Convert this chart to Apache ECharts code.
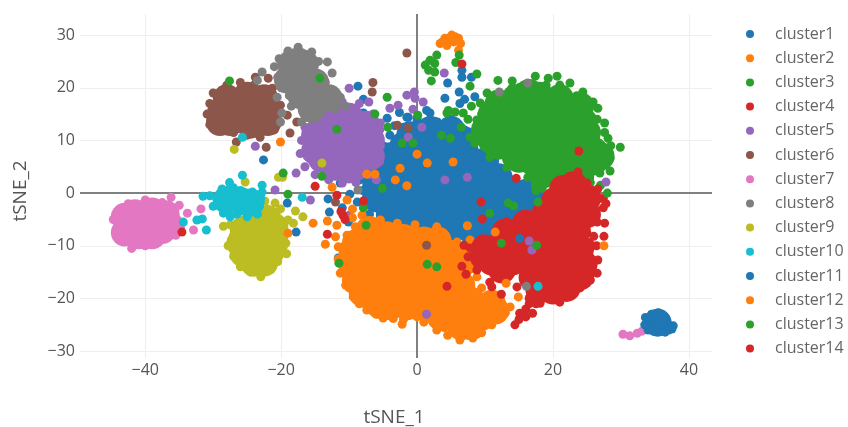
<!DOCTYPE html>
<html><head><meta charset="utf-8">
<style>html,body{margin:0;background:#fff}#c{width:848px;height:427px}</style>
<script src="https://cdn.jsdelivr.net/npm/echarts@6/dist/echarts.min.js"></script></head>
<body><div id="c"></div><script>
const names=['cluster1','cluster2','cluster3','cluster4','cluster5','cluster6','cluster7','cluster8','cluster9','cluster10','cluster11','cluster12','cluster13','cluster14'];
const palette=['#1f77b4','#ff7f0e','#2ca02c','#d62728','#9467bd','#8c564b','#e377c2','#7f7f7f','#bcbd22','#17becf','#1f77b4','#ff7f0e','#2ca02c','#d62728'];
const xTicks=[-40,-20,0,20,40];
const yTicks=[-30,-20,-10,0,10,20,30];

// dense interior of each blob
const core1=[[1,11],[4,11],[7,10],[-2,9],[-1,11],[2,12],[5,12],[-4,7],[1,8],[4,8],[7,8],[10,6],[-3,6],[0,5],[3,5],[6,5],[9,5],[12,3],[-5,3],[-6,1.5],[-2,2],[1,2],[4,2],[7,2],[10,2],[13,1],[16,0],[-6,-1],[-3,-1],[0,-1],[3,-1],[6,-1],[9,-1],[12,-2],[15,-2],[18,-2],[-4,-4],[-1,-4],[2,-4],[5,-4],[8,-4],[11,-4],[14,-4],[2,-6],[5,-7],[8,-7],[11,-7],[15,-5]];
const core2=[[-7,-7],[-4.5,-8],[-2,-8.5],[1,-9],[3,-9],[-9,-9.5],[-9.5,-11],[-6.5,-11],[-3.5,-11],[-0.5,-11],[2.5,-10.5],[5,-11.5],[-9.5,-14],[-6.5,-14],[-3.5,-14],[-0.5,-14],[2.5,-14],[5.5,-14],[7,-13],[-9,-16.5],[-8,-17],[-5.5,-17],[-2.5,-17],[0.5,-17],[3.5,-17],[6.5,-17.5],[-8,-19],[-6.5,-20],[-4,-20],[-1,-20],[2,-20],[5,-20.5],[8,-20.5],[11,-21],[-5.5,-21.2],[-4,-21.5],[-1.5,-21.5],[1,-21.5],[3.5,-23.5],[6.5,-24],[9.5,-23.5],[11.5,-22.3],[6.5,-25.3],[8,-25.3]];
const core3=[[12,17],[14.5,18],[16.5,19],[18,18.5],[21,18],[24,16.5],[11,15],[14,15],[17,15],[20,15],[23,15],[24.5,13.5],[10,12],[13,12],[16,12],[19,12],[22,12],[25,11.5],[11,10],[12,9],[14,9],[17,9],[20,9],[23,9],[26,8],[27,7],[14.5,7],[15,6.5],[17,6],[20,6],[23,6],[26,6],[18.5,3.5],[21,4],[24,3]];
const core4=[[23,1.5],[21.5,0.8],[20.3,-1.5],[22,-1],[25,-1],[19.5,-3.5],[22,-4],[25,-4],[13,-7.5],[16,-5.8],[15.5,-7],[18,-7],[21,-7],[23.5,-7],[10,-10.5],[13,-10],[16,-10],[19,-10],[22,-10],[24,-10.5],[9.8,-12],[11,-13],[14,-13],[17,-13],[20,-13],[23,-13],[24.5,-13.5],[12.5,-14.5],[17,-16],[20,-16],[23,-15.5],[24,-15.8],[20,-18.5],[18,-18.3],[22,-18]];
const core5=[[-13,14],[-10,14.5],[-7.5,13],[-15,11],[-12,11],[-9,11],[-6.8,10],[-15,8],[-12,8],[-9,8],[-6.8,7],[-14,6.5],[-12,5],[-9,5],[-10,4.5]];
const core6=[[-28,18],[-25,18.5],[-22.5,18],[-28.8,15.5],[-26,15.5],[-23,15.5],[-22,16],[-29,13.5],[-27.5,13.5],[-24.5,13],[-22,13.5]];
const core7=[[-41.5,-3.8],[-39,-3.5],[-37,-4],[-43,-4.5],[-42.5,-6],[-40.5,-6],[-38,-6],[-36.5,-6],[-43,-7.5],[-41,-8],[-39,-8],[-37.5,-7]];
const core8=[[-18.5,24.5],[-17.5,25],[-16.5,24.5],[-19,21.5],[-16.5,21.5],[-15,21],[-17,18.5],[-14.5,18.5],[-13,18],[-15.5,16]];
const core9=[[-25.5,-7],[-23.5,-7],[-22,-5],[-21,-6.5],[-21,-8],[-26,-9.5],[-23.5,-10],[-21,-9.5],[-25.5,-11.5],[-25,-12],[-23,-12.5],[-21.5,-11],[-24,-13.2],[-22.5,-13.2]];
const core10=[[-28,-1.3],[-26,-1.5],[-24.5,-1.8]];
const core11=[[35.4,-24.6]];

// single points: outlines and strays
const pts1=[[-7.5,3],[-8,0.5],[-7.5,-1],[-7,-4],[-5.5,-6],[-7,5],[-6,7],[-5,9],[-4,11],[-2,12.5],[0,13.5],[3,13.5],[5,14],[7,12],[-1.5,14.4],[4.5,20.9],[4.1,18],[6.2,19.2],[6.6,22],[6.6,23.3],[8,22],[6.3,17],[7,17.8],[8.5,18.3],[1.9,15.2],[1.4,15.7],[-19.1,-1.9],[-20.3,-6.6],[-17.8,-7.4],[-13.1,-1.1],[-12.9,-3.6],[-11,-2.8],[-10.1,-5.5],[-8.8,-1.7],[-9.9,-0.2],[-11.6,-12.3],[-22.6,6.3],[-8.7,20.3],[-7.9,17.8],[-7.9,15.2],[-5.9,13.3],[-4.4,14.2],[-1.3,14.4],[0,14.2],[-11.3,1.9],[-8.4,2.5],[-9,3.5],[-6,4.5],[-3.3,12.8],[-2.6,15.3]];
const pts2=[[-8.1,-4.2],[-5.4,-5.1],[-2.9,-5.7],[-0.6,-7],[2.9,-6.4],[3.8,-7.6],[5.9,-9.3],[7.8,-8.9],[1.5,-7.6],[7.4,-11.4],[8.8,-15.9],[8,-14],[9.5,-18],[11.5,-19.5],[13.7,-21.6],[13,-22.7],[12.2,-23.5],[11,-25],[9.5,-26.5],[8.2,-27.5],[6.3,-27.9],[4.5,-27],[2.9,-26],[1,-24.5],[0,-23.5],[-2,-24],[-5,-23.7],[-7.4,-22.2],[-9.4,-19.7],[-10.5,-17.5],[-11.3,-15.2],[-11.6,-12.5],[-11.6,-10.2],[-8.8,-9.5],[-9.1,-6.4],[-10.5,-10.3],[-9.8,-17.5],[-8.5,-21],[-6,-23],[-3.5,-23.8],[4,-25.5]];
const pts3=[[9.3,17.1],[12.2,18.2],[14,20],[16.5,20],[19,20.5],[21,20.5],[23.5,18.5],[25,16],[26.5,14],[27.6,13.3],[28.1,10.4],[27.5,8],[28.5,9],[29.9,8.7],[28.4,6.6],[28.4,4.2],[26.9,3.8],[25.7,0.5],[8.5,9.5],[10.7,6.8],[13.2,4.9],[16.3,3],[18,1.1],[20.6,2.5],[4.4,15.2],[5.6,15.4],[6.8,15.2],[7.8,10.6],[4.9,10.4],[3.6,11],[8.8,13.9],[7.5,14],[9.5,15],[8,16.5],[15.1,20.1],[17.4,22.2],[19.3,21.8],[20.6,22.2],[22.5,20.9],[24.4,19.2],[25.9,17.3],[26.6,16.1],[27.6,11.5],[28.2,7.5],[27,5.5],[11.9,21.4],[14,21.3],[25.5,2],[24.5,2.2],[27,1.5],[6.5,12.5],[17.5,0.5]];
const pts4=[[23.7,4],[22.5,3.1],[20.6,0.6],[19.6,-1.3],[17.6,-3.2],[15.1,-5.1],[13.2,-5.4],[12.2,-7.6],[9.5,-8.7],[7.8,-10.4],[7.5,-12.1],[8.8,-14.6],[10.7,-16.9],[12.5,-15.5],[14.7,-17.8],[16.6,-19.7],[18.1,-20.9],[17,-22.8],[14.4,-25],[15.1,-22.8],[21,-20.7],[24,-18],[26.5,-15.2],[26.6,-12.7],[25.4,-9.5],[25,-7.6],[27.6,-5.7],[27.4,-2.8],[26.9,-1],[25,1.9],[26,-8.2],[27.5,-8.2],[26.4,-10],[16.5,-20],[16.5,-21],[17.5,-21],[16,-22],[15.5,-23],[15,-24],[16,-23.5],[26,-3.5],[26.5,-5.5],[25.5,-16.5],[22.5,-19.5],[18.5,-19],[26.6,0.8],[27.4,-1],[27.8,-2]];
const pts5=[[-17,10],[-17.2,7.5],[-16.5,5],[-15,3.5],[-13,2.5],[-11,1.9],[-9,2],[-7,3.5],[-5.5,6],[-5.4,9],[-5.5,12],[-6.5,15],[-8.5,17],[-11,17.3],[-13.5,16.5],[-15.5,14.5],[-16.5,12.5],[-10,19.9],[-7.1,17.3],[-4,16.1],[-2.8,16.7],[-5.4,13.3],[-23.8,8.9],[-17.8,3.8],[-20.9,0.6],[-15.7,-1.3],[-0.4,19.2],[-1.5,18.6],[-0.3,18],[0.9,17.3],[-0.6,15.9],[4,22.8],[27.8,2.1],[0.7,12.5],[-1.3,10.6],[4.1,2.5],[7.4,3],[16.5,-9.1],[16.9,-10.8],[1.4,-23],[-10,-4.2],[-6,2.5]];
const pts6=[[-30.5,17],[-30.9,15],[-30.5,13],[-29,12],[-27,11.5],[-25,11],[-23,11.5],[-21,12],[-20.6,14],[-21,16.5],[-22,19],[-24,20.5],[-26,21],[-28,20.5],[-30,19],[-1.5,26.6],[-6.5,21],[-6.6,19.2],[-17.7,13.5],[-18.7,11.4],[-22.2,8.7],[-23.1,10.6],[-26.6,9.7],[-20.1,16.7],[-19.1,14.8],[-21.3,19.9],[-23.8,22],[-21.9,21.8],[-2.9,12.9],[-1.3,12.3],[-12,-1.7],[1.4,-9.9]];
const pts7=[[-44.7,-5],[-44,-3.5],[-42.5,-2],[-40,-1.3],[-37.5,-1.8],[-35.7,-3],[-35,-5.5],[-35.5,-8],[-37,-7.8],[-38,-9.2],[-40,-10],[-42,-10.5],[-43.5,-9],[-44.2,-7],[-36.2,-0.8],[-35,-2.3],[-33.8,-3.8],[-31.8,-3],[-32.9,-7],[-34.8,-6.6],[30.3,-26.8],[31.3,-27.1],[32.4,-26.6],[33.1,-26.2]];
const pts8=[[-21,24],[-20.5,22],[-20.3,25.5],[-19,27],[-17.5,27.7],[-15.5,26.8],[-14.5,25],[-13.2,24.9],[-12.5,22.8],[-13.5,21],[-11.3,18.2],[-10.5,16.5],[-12,16],[-16.2,15.2],[-17,13.5],[-15.5,14],[-18.8,18.5],[-20,20],[-22.8,23],[-23.5,21.4],[-20.6,18.2],[-18.5,16.5],[-20.1,13.5],[-19.9,15.2],[12.1,19.2],[16.3,20.9],[-8.7,0.6],[16.1,-17.7]];
const pts9=[[-27.5,-6],[-27,-8],[-27.8,-10],[-27,-12],[-26,-14],[-24.5,-15],[-23,-15.9],[-21.5,-14.5],[-20.5,-13],[-19.2,-11.5],[-19.3,-9.5],[-20,-7.5],[-19.8,-5.5],[-21,-4],[-22,-3],[-24,-4.5],[-26,-5],[-20.9,-1.9],[-20.1,-3],[-17.9,-3.4],[-16.8,-4.5],[-19,-5.1],[-18.2,-5.7],[-28.5,-6.3],[-25.3,2.1],[-20.4,3],[-14,5.7],[-26.9,8.3],[-22.4,-1.5],[-19.8,3]];
const pts10=[[-31.5,-0.6],[-30.5,-0.5],[-29.5,-1],[-30,-2.5],[-29,-2.5],[-28.5,-3.8],[-27.5,-4.5],[-28,-1],[-28.7,0.8],[-27.6,2],[-27,1],[-27.5,-0.5],[-26.5,-1],[-26.5,-2.5],[-26,0.5],[-25.5,-0.5],[-25.5,-2],[-25.3,-3.5],[-24,-1],[-24,-2.5],[-23.5,-4],[-24.2,0.2],[-22.8,0.2],[-23,-1],[-26.5,-4],[-25,-4.5],[-29,-0.2],[-34.4,-5.5],[-32.4,-5.1],[-31.6,-4.9],[-31,-7],[-25.7,3.4],[-22.8,1.5],[-16.9,-0.8],[-25.7,10.6],[17.8,-17.7]];
const pts11=[[33.6,-23.6],[34,-24.5],[33.5,-25],[34,-26],[35,-25.5],[34.5,-23],[35.5,-22.7],[36,-23],[36,-24],[36,-25.5],[37,-25],[37,-26],[37.5,-25.8],[37.7,-25.2],[35.5,-26],[36.5,-26.4],[35.2,-24.2],[36.5,-24.2],[34.8,-26.2],[15.1,-8.6]];
const pts12=[[3.4,28.4],[4.1,29.4],[5.1,30],[6.1,29.4],[6.4,28.4],[6.1,27.1],[4.4,28],[5.4,28.7],[4.8,29.5],[3.8,28.8],[5.6,29.7],[-15.3,-5.7],[-13.2,-5.3],[-11.8,-6.1],[-12,-8.3],[-13.5,-9.7],[-19,-7.6],[-10.3,-8],[-10,-18],[-2.2,-24.9],[-10.3,-1.3],[-12.5,1.1],[-20.1,9.7],[-2.5,4.7],[-3.2,2.5],[-1.5,1.4],[-7.4,3.6],[-6.2,3.6],[0,7.4],[1.5,5.7],[5.3,5.9],[7.4,-6.2],[11.5,-7.4],[-0.3,-6],[13.1,-17.1],[14.9,-19.7],[27.5,-10],[-9.5,-3],[-9.5,-4.7]];
const pts13=[[1.2,24.3],[1.9,25.2],[2.9,26.2],[1.7,23.3],[2.6,23],[2.1,21.3],[2.6,24.6],[6.2,26.2],[5.7,24.8],[8.8,22.6],[7.8,20.3],[10.3,19],[4.6,15.7],[-27.6,21.3],[-14.3,21.8],[-11.8,12.1],[-4.4,18.2],[-6.2,15],[-19.7,3.8],[-14,3.2],[-5.1,0.9],[-4.3,12.5],[-2.2,9.5],[-0.6,9.5],[0.1,14.8],[-19,-0.2],[-7.9,-2.8],[13.4,-1.9],[14.2,-2.4],[10.7,-3.8],[17.8,-1.7],[17.4,1.5],[18.4,0.9],[12.4,-9.5],[1.5,-13.5],[2.9,-14],[-7.5,-6.1],[-11.5,-13.3],[17.6,-9.9],[28,0]];
const pts14=[[6.6,24.5],[14.6,2.8],[9.4,-1.7],[9.6,-4.9],[23.8,8],[6.6,-13.9],[7.2,-15.4],[4.4,-17.7],[11,-17.8],[12.4,-19.2],[6.9,-9.9],[-15,1.3],[-11.8,-0.4],[-7.9,-1.5],[-10.9,-4.2],[-11.2,-3.5],[-10.6,-5],[-13.2,-7.8],[-34.6,-7.4]];

const cores=[core1,core2,core3,core4,core5,core6,core7,core8,core9,core10,core11];
const points=[pts1,pts2,pts3,pts4,pts5,pts6,pts7,pts8,pts9,pts10,pts11,pts12,pts13,pts14];

const gridStyle={color:'#eeeeee',width:1,type:'solid'};
const zeroStyle={color:'#808080',width:2,type:'solid'};
const series=[
 {type:'scatter',name:'gridlines',data:[],z:1,silent:true,
  markLine:{silent:true,z:0,symbol:'none',label:{show:false},animation:false,
   data:[...xTicks.filter(v=>v!==0).map(v=>({xAxis:v,lineStyle:gridStyle})),...yTicks.filter(v=>v!==0).map(v=>({yAxis:v,lineStyle:gridStyle})),{xAxis:0,lineStyle:zeroStyle},{yAxis:0,lineStyle:zeroStyle}]}}];
names.forEach((n,i)=>{
  const col={color:palette[i],opacity:1};
  if(cores[i]) series.push({type:'scatter',name:n,data:cores[i],symbolSize:28,itemStyle:col,z:2+i,silent:true});
  series.push({type:'scatter',name:n,data:points[i],symbolSize:9,itemStyle:col,z:2+i,silent:true});
});
const font='"Open Sans",sans-serif';
const tick=v=>String(v).replace('-','\u2212');
const c=echarts.init(document.getElementById('c'),null,{renderer:'canvas'});
c.setOption({animation:false,backgroundColor:'#fff',
 grid:{left:80,right:136,top:14,bottom:69,outerBoundsMode:'none'},
 legend:{data:names,orient:'vertical',left:741,top:21,itemWidth:34,itemHeight:8,itemGap:8.2,icon:'circle',
   textStyle:{color:'#666',fontSize:16,fontFamily:font,lineHeight:16,padding:[0,0,0,3]}},
 xAxis:{type:'value',min:-49.6,max:43.4,name:'tSNE_1',nameLocation:'center',nameGap:50,
   nameTextStyle:{color:'#555',fontSize:19,fontFamily:font,padding:[0,4,0,0]},
   axisLine:{show:false,onZero:false},axisTick:{show:false},splitLine:{show:false},
   axisLabel:{color:'#555',fontSize:16,fontFamily:font,margin:4,customValues:xTicks,formatter:tick}},
 yAxis:{type:'value',min:-31.3,max:34,name:'tSNE_2',nameLocation:'center',nameGap:50,
   nameTextStyle:{color:'#555',fontSize:19,fontFamily:font,padding:[0,10,0,0]},
   axisLine:{show:false,onZero:false},axisTick:{show:false},splitLine:{show:false},
   axisLabel:{color:'#555',fontSize:16,fontFamily:font,margin:5,customValues:yTicks,formatter:tick}},
 series});
</script></body></html>
